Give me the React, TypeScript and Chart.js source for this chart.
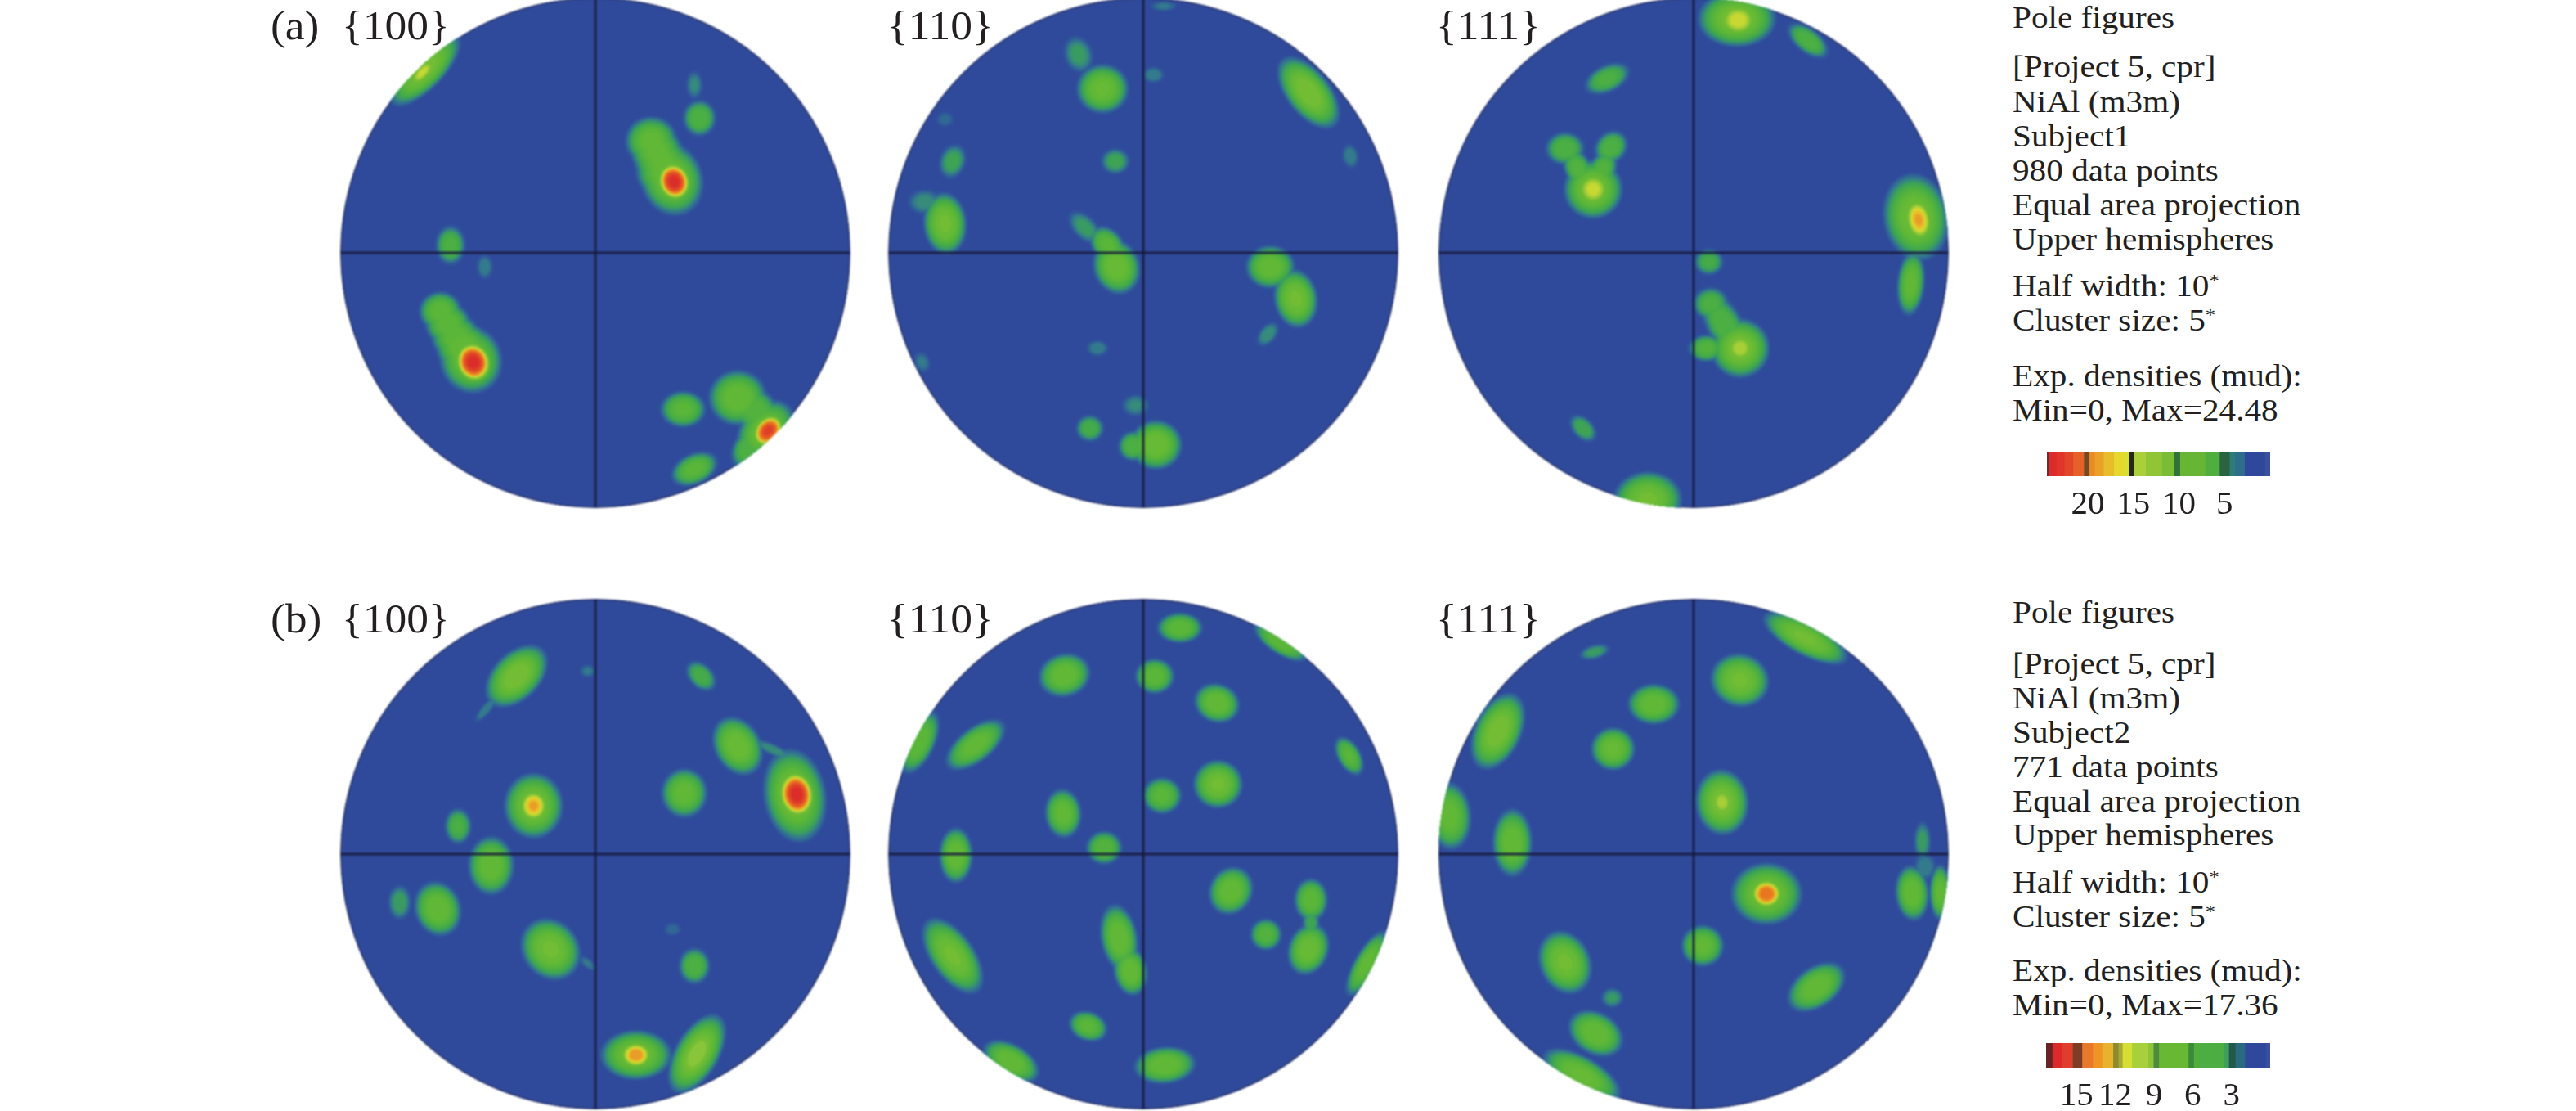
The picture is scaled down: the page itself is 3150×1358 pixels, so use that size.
import React, { useEffect, useRef } from "react";
import { Chart, registerables } from "chart.js";

Chart.register(...registerables);

// Blob = [x, y, peak density (0..1 of the colour ramp), major half-axis, minor half-axis, angle in degrees]
// x and y are in percent of the pole-figure radius.
type Blob = [number, number, number, number, number, number];

const blobsA100: Blob[] = [
  [-67, 72, 0.48, 15, 6, -46], [-68, 71, 0.65, 6, 2.5, -46],
  [39, 66, 0.13, 5, 3, 90], [41, 53, 0.3, 6, 5.5, 90],
  [22, 44, 0.4, 8.5, 8, 0], [24, 40, 0.4, 8.5, 8, 0], [26, 36, 0.4, 9, 8, 0], [28, 32, 0.42, 10, 9, 0], [30, 29, 0.45, 12, 10, 70], [31, 28, 1, 7, 6, 70],
  [-57, 3, 0.28, 6.5, 5, 90], [-43.5, -5.5, 0.12, 4.5, 3, 90],
  [-61, -23, 0.38, 7, 6.5, 0], [-58, -28, 0.38, 7.5, 7, 0], [-55, -33, 0.38, 8, 7.5, 0], [-52, -37, 0.42, 9, 8, 0], [-49, -42, 0.45, 11, 10, 70], [-48, -43, 1, 7.5, 6.5, 70],
  [34.5, -61.5, 0.36, 7.5, 6, 0], [56, -57, 0.42, 9.5, 9, 0], [63, -62, 0.33, 10, 7, 45],
  [67, -70, 0.45, 11, 8, -50], [68, -70, 0.95, 6.5, 5, -50], [60, -77, 0.3, 7, 5, -60], [39, -85, 0.36, 8, 5, -25],
];
const blobsA110: Blob[] = [
  [-25.5, 78, 0.17, 6.5, 5, 70], [-16, 64.5, 0.43, 8.5, 8, 0], [4, 70, 0.12, 4, 3, 0], [65, 63, 0.5, 13.5, 7, 52],
  [-78, 52.5, 0.08, 3.5, 3, 0], [-75, 36, 0.2, 6, 4.5, -70], [-11, 36, 0.2, 5, 4.5, 0], [81.5, 38, 0.12, 4.5, 3, 80],
  [-78, 11.5, 0.47, 10, 7, 85], [-86, 20, 0.14, 6, 4.5, 0],
  [-10.5, -5.5, 0.45, 9, 7.5, 70], [-14, 3, 0.36, 7, 5, 50], [-23, 10, 0.17, 7, 4, 45],
  [50, -5.5, 0.42, 8, 7, 0], [60, -18, 0.47, 9.5, 7, 80], [49, -32, 0.15, 5, 3, -50],
  [-18, -37.5, 0.12, 4, 3, 0], [-87, -43, 0.1, 4, 3, 70], [-21, -69, 0.25, 4.8, 4.5, 0],
  [5, -75.5, 0.46, 8.5, 8, 0], [-4, -76, 0.3, 5, 5, 0], [-3, -60, 0.13, 5, 4, 0], [8, 97, 0.1, 5, 2, 0],
];
const blobsA111: Blob[] = [
  [17, 92, 0.5, 12.5, 9, 0], [17.5, 91.5, 0.66, 7, 6, 0], [45, 83.5, 0.3, 8, 4, 38], [-34, 68.5, 0.28, 8, 4.5, -25],
  [-50.6, 41, 0.3, 6.5, 5.5, 0], [-32.5, 41.5, 0.3, 6, 5, -45], [-39.5, 25, 0.48, 9.5, 9.5, 0], [-39.5, 25, 0.65, 6, 6, 0],
  [-45.5, 33, 0.32, 7, 4.5, 65], [-36, 32.5, 0.32, 7, 4.5, -65],
  [87.5, 14, 0.47, 14, 10.5, 80], [88.5, 13, 0.75, 8, 5, 80], [85.5, -12, 0.4, 10.5, 4.5, -85],
  [6, -3.5, 0.24, 5, 4.5, 0], [6.7, -20, 0.28, 6, 5.5, 0], [18.3, -37.5, 0.5, 9.5, 9.5, 0], [18.3, -37.5, 0.62, 5, 5, 0],
  [5, -37.5, 0.32, 6, 4.5, 0], [12, -28, 0.3, 11, 6, 60], [-43.5, -69, 0.22, 5.5, 3.5, 45], [-18, -97, 0.47, 11, 9, 0],
];
const blobsB100: Blob[] = [
  [-31, 70, 0.5, 12, 7.5, -45], [-43, 57, 0.12, 6, 1.8, -50], [-3, 72, 0.1, 3, 2.5, 0], [41.6, 70, 0.25, 6, 4, 45],
  [56, 42.5, 0.45, 10, 7.5, 60], [70, 41, 0.14, 8, 2, 25], [35, 24, 0.4, 8, 7.5, 90],
  [78.5, 23, 0.48, 15, 10, 80], [79.2, 23.5, 1, 8.5, 6.5, 80], [-24.3, 19, 0.48, 10.5, 9.5, 90], [-24.3, 19, 0.75, 6, 5.5, 90],
  [-54, 11, 0.27, 6, 4.5, 90], [-41, -4.5, 0.42, 9.5, 7.5, 90], [-77, -19, 0.18, 6, 4, 90], [-62, -21.5, 0.42, 9, 7.5, 70],
  [-17.6, -37.4, 0.47, 10.5, 9, 50], [-3, -43, 0.1, 4, 1.8, 40], [30.4, -29.6, 0.08, 3.5, 2.5, 0], [39, -44, 0.3, 6, 5.2, 90],
  [16, -79, 0.47, 11.5, 8, 0], [16, -79, 0.78, 6, 5, 0], [40, -78.5, 0.52, 14, 7, -60],
];
const blobsB110: Blob[] = [
  [14.4, 89, 0.38, 7.5, 5, 0], [54, 83.5, 0.38, 10, 4, 33], [-31, 70.4, 0.42, 8.5, 7, -15], [4.5, 70, 0.38, 6.5, 5.8, 0],
  [29, 59.4, 0.42, 7.5, 6.3, 20], [-88, 44, 0.38, 11, 5, -65], [-66, 43, 0.4, 11.5, 5.5, -38], [81, 38.6, 0.35, 7, 3.8, 60],
  [29.4, 27.5, 0.47, 8, 7.8, 0], [7.4, 23, 0.36, 6.5, 6, 0], [-31.5, 16, 0.4, 8, 6, 85], [-15.4, 2.5, 0.34, 6, 5.5, 0],
  [-73.7, -0.5, 0.42, 9, 5.5, 90], [34.5, -14.4, 0.42, 8, 7, -60], [66, -18, 0.38, 7, 5.5, 90], [48.3, -31.6, 0.32, 5.3, 5.3, 0],
  [65, -37.4, 0.45, 8.5, 6.5, -70], [66, -27, 0.2, 5, 3, 90], [-9.5, -33, 0.42, 11, 6, 80], [-5, -46, 0.42, 8, 5.5, 80],
  [-75, -40, 0.47, 14, 7, 55], [88, -43, 0.4, 12, 4, -60], [-21.7, -67.7, 0.36, 6.5, 4.8, 20], [-52, -81.5, 0.42, 10, 5.5, 30],
  [8.5, -83, 0.42, 10, 6, -5],
];
const blobsB111: Blob[] = [
  [44, 85, 0.47, 15, 5.5, 28], [-39, 79.5, 0.17, 5.5, 2.5, -15], [18.2, 68.4, 0.47, 9.5, 8.5, 15], [-15.7, 59, 0.42, 8.5, 6.6, 0],
  [-77, 48.3, 0.5, 13, 7.5, -65], [-31.7, 41.4, 0.43, 7.2, 7, 0], [11.2, 20.4, 0.5, 10.5, 8.5, 85], [11.2, 20.4, 0.6, 5, 4, 85],
  [-96, 15, 0.4, 11, 7, 85], [-71.3, 4.5, 0.42, 11, 6.5, 90], [90, 5, 0.17, 7, 3, 90],
  [28.7, -15.6, 0.47, 11.5, 10, 0], [28.7, -15.6, 0.85, 6, 5.5, 0], [86, -15.3, 0.42, 9, 5.5, 85], [97, -15, 0.4, 9, 3.5, 90],
  [91, -5, 0.12, 5, 4, 90], [3.5, -36, 0.4, 7, 6.8, 0], [-50.6, -42.6, 0.47, 10.5, 8.2, 65], [48.3, -52.3, 0.42, 10.5, 6.5, -35],
  [-32, -56.5, 0.16, 4, 3.5, 0], [-38.5, -70.5, 0.42, 9.5, 6.8, 30], [-44, -87, 0.43, 14, 6, 30],
];

const contourLevels = [0.03, 0.06, 0.09, 0.12, 0.15, 0.18, 0.22, 0.26, 0.3, 0.34, 0.38, 0.42, 0.46, 0.5, 0.54, 0.58, 0.62, 0.66, 0.7, 0.74, 0.78, 0.82, 0.86, 0.9, 0.94, 0.98];
const rampStops: [number, number[]][] = [
  [0, [48, 74, 155]], [0.04, [47, 90, 154]], [0.1, [52, 128, 138]], [0.16, [58, 160, 90]], [0.22, [69, 171, 72]],
  [0.35, [92, 183, 56]], [0.45, [108, 187, 51]], [0.5, [137, 197, 58]], [0.58, [168, 207, 53]], [0.64, [216, 220, 48]],
  [0.68, [232, 211, 44]], [0.72, [232, 167, 42]], [0.8, [232, 128, 31]], [0.9, [227, 78, 38]], [1, [217, 37, 42]],
];

const barAEdges = [24.48, 24.3, 23.47, 22.58, 21.63, 20.44, 19.85, 19.26, 18.28, 17.15, 16.05, 15.51, 14.92, 13.67, 11.89, 10.55, 9.9, 7.14, 5.56, 4.47, 3.87, 2.83, 0.6, 0];
const barAColors = ["#6a2d35", "#dd2a2a", "#e0352a", "#e2452a", "#e6602a", "#6e4a25", "#ea8a24", "#eba028", "#e7bd2c", "#e5d82f", "#d9e032", "#24281a", "#aacf38", "#90c635", "#78bd33", "#31713a", "#66b633", "#4fae3f", "#2b6242", "#2f7c77", "#2f6d8d", "#30489b", "#3a5098"];
const barBEdges = [17.36, 16.88, 16.15, 15.31, 14.58, 13.75, 13.02, 12.18, 11.77, 11.45, 10.72, 9.47, 9.05, 8.63, 6.34, 5.92, 5.5, 3.63, 3.21, 2.69, 1.96, 0.29, 0];
const barBColors = ["#6a2126", "#dc2a2a", "#e03d2c", "#7d3c25", "#e8782a", "#ee9526", "#e8b22c", "#8d8a30", "#a6a935", "#d4de35", "#a8d03a", "#8ec437", "#4f8b3d", "#68b833", "#3a8a3e", "#52ae3a", "#4bad42", "#3f9f5a", "#22594a", "#2a6a80", "#30489b", "#3a5098"];

const infoA = ["Pole figures", "[Project 5, cpr]", "NiAl (m3m)", "Subject1", "980 data points", "Equal area projection", "Upper hemispheres", "Half width: 10|*", "Cluster size: 5|*", "Exp. densities (mud):", "Min=0, Max=24.48"];
const infoB = ["Pole figures", "[Project 5, cpr]", "NiAl (m3m)", "Subject2", "771 data points", "Equal area projection", "Upper hemispheres", "Half width: 10|*", "Cluster size: 5|*", "Exp. densities (mud):", "Min=0, Max=17.36"];
const infoAY = [22, 82, 125, 167, 209, 251, 293, 350, 392, 460, 502];
const infoBY = [749, 812, 854, 896, 938, 980, 1021, 1079, 1121, 1187, 1229];

const SERIF = '"Liberation Serif", "Times New Roman", serif';
const INK = "#231f20";
const R = 311;
const LIM = 102;
const SIZE = 634;

const panels = [
  { cx: 728, cy: 309, blobs: blobsA100 },
  { cx: 1398, cy: 309, blobs: blobsA110 },
  { cx: 2071, cy: 309, blobs: blobsA111 },
  { cx: 728, cy: 1044, blobs: blobsB100 },
  { cx: 1398, cy: 1044, blobs: blobsB110 },
  { cx: 2071, cy: 1044, blobs: blobsB111 },
];
const labels = [
  { t: "(a)", x: 331, y: 31 }, { t: "{100}", x: 418, y: 31 }, { t: "{110}", x: 1085, y: 31 }, { t: "{111}", x: 1756, y: 31 },
  { t: "(b)", x: 331, y: 756 }, { t: "{100}", x: 418, y: 756 }, { t: "{110}", x: 1085, y: 756 }, { t: "{111}", x: 1756, y: 756 },
];

function rampColor(v: number): string {
  for (let i = 1; i < rampStops.length; i++) {
    const [v1, c1] = rampStops[i];
    const [v0, c0] = rampStops[i - 1];
    if (v <= v1) {
      const t = (v - v0) / (v1 - v0);
      const c = c0.map((n, k) => Math.round(n + (c1[k] - n) * t));
      return `rgb(${c[0]},${c[1]},${c[2]})`;
    }
  }
  return "rgb(217,37,42)";
}

function ellipseSprite(a: number, b: number, color: string): HTMLCanvasElement {
  const c = document.createElement("canvas");
  c.width = Math.ceil(a * 2) + 4;
  c.height = Math.ceil(b * 2) + 4;
  const g = c.getContext("2d")!;
  g.fillStyle = color;
  g.beginPath();
  g.ellipse(c.width / 2, c.height / 2, a, b, 0, 0, Math.PI * 2);
  g.fill();
  return c;
}

function levelDataset(blobs: Blob[], level: number) {
  const live = blobs.filter((b) => b[2] > level);
  const color = rampColor(level);
  const k = (p: number) => Math.min(1.25, Math.pow(Math.log(p / level) / 1.05, 0.28)) * (R / 100);
  return {
    type: "scatter" as const,
    data: live.map((b) => ({ x: b[0], y: b[1] })),
    pointStyle: live.map((b) => ellipseSprite(b[3] * k(b[2]), b[4] * k(b[2]), color)),
    pointRotation: live.map((b) => b[5]),
  };
}

const roundClip = {
  id: "roundClip",
  beforeDatasetsDraw(chart: any) {
    const { ctx, scales } = chart;
    ctx.save();
    ctx.beginPath();
    ctx.arc(scales.x.getPixelForValue(0), scales.y.getPixelForValue(0), R + 1, 0, Math.PI * 2);
    ctx.clip();
  },
  afterDatasetsDraw(chart: any) {
    chart.ctx.restore();
  },
};

function PoleFigure({ cx, cy, blobs }: { cx: number; cy: number; blobs: Blob[] }) {
  const ref = useRef<HTMLCanvasElement>(null);
  useEffect(() => {
    const cross = (pts: { x: number; y: number }[]) => ({
      type: "scatter" as const,
      data: pts,
      showLine: true,
      borderColor: "rgba(22,24,58,0.88)",
      borderWidth: 3,
      pointRadius: 0,
    });
    const chart = new Chart(ref.current!, {
      type: "scatter",
      data: {
        datasets: [
          cross([{ x: -100, y: 0 }, { x: 100, y: 0 }]),
          cross([{ x: 0, y: -100 }, { x: 0, y: 100 }]),
          ...[...contourLevels].reverse().map((l) => levelDataset(blobs, l)),
          {
            type: "scatter" as const,
            data: [{ x: 0, y: 0 }],
            pointRadius: R,
            pointBackgroundColor: "#304a9b",
            pointBorderColor: "#26356f",
            pointBorderWidth: 2,
          },
        ] as any,
      },
      options: {
        animation: false,
        responsive: false,
        maintainAspectRatio: false,
        layout: { padding: 0, autoPadding: false },
        events: [],
        plugins: { legend: { display: false }, tooltip: { enabled: false }, title: { display: false } },
        scales: {
          x: { type: "linear", min: -LIM, max: LIM, display: false },
          y: { type: "linear", min: -LIM, max: LIM, display: false },
        },
      },
      plugins: [roundClip],
    });
    return () => chart.destroy();
  }, [blobs]);
  return (
    <canvas
      ref={ref}
      width={SIZE}
      height={SIZE}
      style={{ position: "absolute", left: cx - SIZE / 2, top: cy - SIZE / 2, width: SIZE, height: SIZE, filter: "blur(1.3px)" }}
    />
  );
}

function ColorBar({ left, top, width, barH, edges, colors, max, step }: { left: number; top: number; width: number; barH: number; edges: number[]; colors: string[]; max: number; step: number }) {
  const ref = useRef<HTMLCanvasElement>(null);
  const axisH = 58;
  useEffect(() => {
    const chart = new Chart(ref.current!, {
      type: "bar",
      data: {
        labels: [""],
        datasets: colors.map((c, i) => ({
          data: [[edges[i + 1], edges[i]]],
          backgroundColor: c,
          grouped: false,
          barPercentage: 1,
          categoryPercentage: 1,
        })) as any,
      },
      options: {
        indexAxis: "y",
        animation: false,
        responsive: false,
        maintainAspectRatio: false,
        layout: { padding: 0, autoPadding: false },
        events: [],
        plugins: { legend: { display: false }, tooltip: { enabled: false } },
        scales: {
          x: {
            type: "linear",
            reverse: true,
            min: 0,
            max,
            grid: { display: false, drawTicks: false },
            border: { display: false },
            afterFit: (s: any) => { s.height = axisH; s.paddingLeft = 0; s.paddingRight = 0; },
            ticks: {
              stepSize: step,
              includeBounds: false,
              autoSkip: false,
              maxRotation: 0,
              padding: 11,
              color: INK,
              font: { family: SERIF, size: 41 },
              callback: (v: any) => (Number(v) === 0 ? "" : String(v)),
            },
          },
          y: { display: false },
        },
      },
    });
    return () => chart.destroy();
  }, []);
  const h = barH + axisH;
  return <canvas ref={ref} width={width} height={h} style={{ position: "absolute", left, top, width, height: h }} />;
}

function Info({ lines, ys }: { lines: string[]; ys: number[] }) {
  return (
    <>
      {lines.map((l, i) => {
        const [main, sup] = l.split("|");
        return (
          <div key={i} style={{ position: "absolute", left: 2461, top: ys[i] - 21, lineHeight: "42px", fontSize: 37, fontFamily: SERIF, color: INK, whiteSpace: "nowrap", transform: "scaleX(1.114)", transformOrigin: "left center" }}>
            {main}
            {sup ? <span style={{ fontSize: 22, position: "relative", top: -12 }}>{sup}</span> : null}
          </div>
        );
      })}
    </>
  );
}

export default function App() {
  useEffect(() => {
    document.body.style.margin = "0";
    document.body.style.background = "#fff";
  }, []);
  return (
    <div style={{ position: "relative", width: 3150, height: 1358, overflow: "hidden", background: "#fff" }}>
      {panels.map((p, i) => (
        <PoleFigure key={i} cx={p.cx} cy={p.cy} blobs={p.blobs} />
      ))}
      {labels.map((l, i) => (
        <div key={i} style={{ position: "absolute", left: l.x, top: l.y - 30, lineHeight: "60px", fontSize: 50, fontFamily: SERIF, color: INK, whiteSpace: "nowrap", transform: "scaleX(1.07)", transformOrigin: "left center" }}>
          {l.t}
        </div>
      ))}
      <Info lines={infoA} ys={infoAY} />
      <Info lines={infoB} ys={infoBY} />
      <ColorBar left={2503} top={553} width={273} barH={29} edges={barAEdges} colors={barAColors} max={24.48} step={5} />
      <ColorBar left={2502} top={1275} width={274} barH={30} edges={barBEdges} colors={barBColors} max={17.36} step={3} />
    </div>
  );
}
